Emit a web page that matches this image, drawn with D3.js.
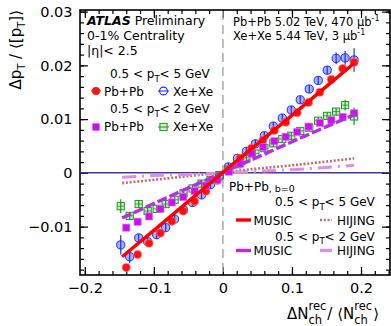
<!DOCTYPE html>
<html>
<head>
<meta charset="utf-8">
<script src="https://cdn.jsdelivr.net/npm/d3@7"></script>
<style>
  body { margin: 0; background: #fff; }
  svg text { font-family: "DejaVu Sans", sans-serif; fill: #000; }
</style>
</head>
<body>
<div class="chart"></div>
<script>
// Xe+Xe bins
const xeX = [-0.148, -0.135, -0.122, -0.109, -0.096, -0.083, -0.070, -0.057, -0.044, -0.031, -0.018, -0.005, 0.008,
  0.021, 0.034, 0.047, 0.060, 0.073, 0.086, 0.099, 0.112, 0.125, 0.138, 0.151, 0.164, 0.177, 0.190];
const xe5 = [-0.0134, -0.0156, -0.0121, -0.0128, -0.0115, -0.0102, -0.0086, -0.0069, -0.0055, -0.0041, -0.0022, -0.0007, 0.0011,
  0.0027, 0.0040, 0.0054, 0.0069, 0.0087, 0.0102, 0.0117, 0.0136, 0.0156, 0.0172, 0.0191, 0.0213, 0.0214, 0.0210];
const xe5Err = [0.0018, 0.0012, 0.0006, 0.0005, 0.0004, 0.0003, 0.0003, 0.0003, 0.0003, 0.0002, 0.0002, 0.0002, 0.0002,
  0.0002, 0.0002, 0.0002, 0.0003, 0.0003, 0.0003, 0.0003, 0.0004, 0.0004, 0.0005, 0.0006, 0.0011, 0.0013, 0.0022];
const xe2 = [-0.0062, -0.0080, -0.0058, -0.0071, -0.0067, -0.0058, -0.0050, -0.0038, -0.0029, -0.0020, -0.0013, -0.0004, 0.0006,
  0.0016, 0.0028, 0.0036, 0.0046, 0.0055, 0.0063, 0.0069, 0.0078, 0.0084, 0.0097, 0.0106, 0.0114, 0.0126, 0.0105];
const xe2Err = [0.0013, 0.0005, 0.0007, 0.0004, 0.0003, 0.0003, 0.0002, 0.0002, 0.0002, 0.0002, 0.0002, 0.0002, 0.0002,
  0.0002, 0.0002, 0.0002, 0.0002, 0.0002, 0.0003, 0.0003, 0.0003, 0.0004, 0.0004, 0.0005, 0.0006, 0.0010, 0.0016];

// Pb+Pb bins
const pbX = [-0.140, -0.1235, -0.107, -0.0905, -0.074, -0.0575, -0.041, -0.0245, -0.008, 0.0085,
  0.025, 0.0415, 0.058, 0.0745, 0.091, 0.1075, 0.124, 0.1405, 0.157, 0.1735, 0.190];
const pb5 = [-0.0176, -0.0152, -0.0131, -0.0112, -0.0090, -0.0071, -0.0053, -0.0034, -0.0014, 0.0006,
  0.0027, 0.0046, 0.0061, 0.0079, 0.0094, 0.0112, 0.0131, 0.0150, 0.0174, 0.0194, 0.0206];
const pb2 = [-0.0102, -0.0091, -0.0081, -0.0067, -0.0055, -0.0045, -0.0034, -0.0024, -0.0013, 0.0002,
  0.0017, 0.0036, 0.0048, 0.0059, 0.0067, 0.0076, 0.0086, 0.0093, 0.0098, 0.0104, 0.0111];

// model curves
const modelX = [-0.146, -0.1, -0.05, 0, 0.05, 0.1, 0.15, 0.19];
const music5 = [-0.0156, -0.0107, -0.0053, 0.0001, 0.0054, 0.0107, 0.0161, 0.0204];
const music2 = [-0.0084, -0.0057, -0.0028, 0.0001, 0.0029, 0.0058, 0.0086, 0.0108];
const hijing5 = [-0.0019, -0.0013, -0.0006, 0.0001, 0.0008, 0.0014, 0.0021, 0.0027];
const hijing2 = [-0.0008, -0.0005, -0.0003, 0.0000, 0.0003, 0.0006, 0.0010, 0.0014];

const xTicks = [-0.2, -0.1, 0, 0.1, 0.2];
const yTicks = [-0.01, 0, 0.01, 0.02, 0.03];

const width = 391, height = 326;
const frame = { left: 80, top: 10, right: 390, bottom: 275 };

const svg = d3.select('.chart').append('svg')
  .attr('width', width).attr('height', height);

const x = d3.scaleLinear([-0.207, 0.242], [frame.left, frame.right]);
const y = d3.scaleLinear([-0.019, 0.0303], [frame.bottom, frame.top]);

const xMinor = d3.range(-10, 13).map(i => +(i * 0.02).toFixed(3));
const yMinor = d3.range(-9, 16).map(i => +(i * 0.002).toFixed(4));

const fmtX = d => d === 0 ? '0' : d3.format('.1f')(d);
const fmtY = d => d === 0 ? '0' : d3.format('.2f')(d);

// axes (ticks inward on all four sides)
function drawAxis(axisFn, scale, tr, major, minor, fmt, showLabels) {
  const gMin = svg.append('g').attr('transform', tr)
    .call(axisFn(scale).tickValues(minor).tickSize(-4).tickFormat(''));
  const gMaj = svg.append('g').attr('transform', tr)
    .call(axisFn(scale).tickValues(major).tickSize(-8).tickPadding(showLabels ? 8 : 0)
      .tickFormat(showLabels ? fmt : ''));
  [gMin, gMaj].forEach(g => {
    g.select('.domain').remove();
    g.selectAll('line').attr('stroke', '#000').attr('stroke-width', 1.2);
  });
  gMaj.selectAll('text').style('font-size', '14.5px').attr('fill', '#000');
  return gMaj;
}
drawAxis(d3.axisBottom, x, `translate(0,${frame.bottom})`, xTicks, xMinor, fmtX, true);
drawAxis(d3.axisTop, x, `translate(0,${frame.top})`, xTicks, xMinor, fmtX, false);
drawAxis(d3.axisLeft, y, `translate(${frame.left},0)`, yTicks, yMinor, fmtY, true)
  .selectAll('text').attr('dx', '0.5');
drawAxis(d3.axisRight, y, `translate(${frame.right},0)`, yTicks, yMinor, fmtY, false);

svg.append('rect')
  .attr('x', frame.left).attr('y', frame.top)
  .attr('width', frame.right - frame.left).attr('height', frame.bottom - frame.top)
  .attr('fill', 'none').attr('stroke', '#000').attr('stroke-width', 1.6);

// reference lines
svg.append('line')
  .attr('x1', x(0)).attr('x2', x(0)).attr('y1', frame.top + 1).attr('y2', frame.bottom - 1)
  .attr('stroke', '#aaa').attr('stroke-width', 1.5).attr('stroke-dasharray', '9,5');
svg.append('line')
  .attr('x1', frame.left).attr('x2', frame.right).attr('y1', y(0)).attr('y2', y(0))
  .attr('stroke', '#3b3b9c').attr('stroke-width', 1.5);

const line = d3.line().x(d => x(d[0])).y(d => y(d[1]));
const pts = vals => modelX.map((v, i) => [v, vals[i]]);

// HIJING
svg.append('path').datum(pts(hijing5)).attr('d', line)
  .attr('fill', 'none').attr('stroke', '#c06a6a').attr('stroke-width', 2.6).attr('stroke-dasharray', '2,1.8');
svg.append('path').datum(pts(hijing2)).attr('d', line)
  .attr('fill', 'none').attr('stroke', '#e48ae8').attr('stroke-width', 3).attr('stroke-dasharray', '14,6,2,6');

// Xe+Xe 0.5-5: open blue circles
const gXe5 = svg.append('g');
xeX.forEach((v, i) => {
  gXe5.append('circle').attr('cx', x(v)).attr('cy', y(xe5[i])).attr('r', 4.1)
    .attr('fill', 'rgba(105,125,240,0.6)').attr('stroke', '#1e2cff').attr('stroke-width', 1);
  gXe5.append('line').attr('x1', x(v)).attr('x2', x(v))
    .attr('y1', Math.min(y(xe5[i] + xe5Err[i]), y(xe5[i]) - 4.1))
    .attr('y2', Math.max(y(xe5[i] - xe5Err[i]), y(xe5[i]) + 4.1))
    .attr('stroke', '#1e2cff').attr('stroke-width', 1.2);
});

// Xe+Xe 0.5-2: open green squares
const gXe2 = svg.append('g');
xeX.forEach((v, i) => {
  const cx = x(v), cy = y(xe2[i]);
  gXe2.append('rect').attr('x', cx - 3.6).attr('y', cy - 3.6).attr('width', 7.2).attr('height', 7.2)
    .attr('fill', 'rgba(80,190,80,0.25)').attr('stroke', '#199a19').attr('stroke-width', 1);
  gXe2.append('line').attr('x1', cx).attr('x2', cx)
    .attr('y1', Math.min(y(xe2[i] + xe2Err[i]), cy - 3.6))
    .attr('y2', Math.max(y(xe2[i] - xe2Err[i]), cy + 3.6))
    .attr('stroke', '#199a19').attr('stroke-width', 1.2);
  gXe2.append('line').attr('x1', cx - 3.6).attr('x2', cx + 3.6).attr('y1', cy).attr('y2', cy)
    .attr('stroke', '#199a19').attr('stroke-width', 0.8);
});

// Pb+Pb 0.5-5: red filled circles
svg.append('g').selectAll('circle').data(pbX).join('circle')
  .attr('cx', d => x(d)).attr('cy', (d, i) => y(pb5[i])).attr('r', 4)
  .attr('fill', '#ff1010').attr('stroke', 'rgba(255,120,120,0.6)').attr('stroke-width', 1.2);

// Pb+Pb 0.5-2: magenta filled squares
svg.append('g').selectAll('rect').data(pbX).join('rect')
  .attr('x', d => x(d) - 3.6).attr('y', (d, i) => y(pb2[i]) - 3.6)
  .attr('width', 7.2).attr('height', 7.2)
  .attr('fill', '#cc10ee').attr('stroke', 'rgba(220,120,240,0.6)').attr('stroke-width', 1);

// MUSIC
svg.append('path').datum(pts(music2)).attr('d', line)
  .attr('fill', 'none').attr('stroke', '#b52ee6').attr('stroke-width', 3.4).attr('stroke-dasharray', '10,3');
svg.append('path').datum(pts(music5)).attr('d', line)
  .attr('fill', 'none').attr('stroke', '#ff0000').attr('stroke-width', 3.4);

// text helpers
function txt(xp, yp, size) {
  return svg.append('text').attr('x', xp).attr('y', yp).style('font-size', size + 'px');
}
function ptRange(xp, yp, hi) {
  const t = txt(xp, yp, 12);
  t.append('tspan').text('0.5 < p');
  t.append('tspan').text('T').attr('dy', 3.5).style('font-size', '8.5px');
  t.append('tspan').text('< ' + hi + ' GeV').attr('dy', -3.5);
}

// top-left labels
const atl = txt(87, 25, 12.5);
atl.append('tspan').text('ATLAS').style('font-weight', 'bold').style('font-style', 'italic');
atl.append('tspan').text(' Preliminary');
txt(87, 40, 12.5).text('0-1% Centrality');
txt(87, 55, 12.5).text('|η|< 2.5');

ptRange(110, 78, 5);
svg.append('circle').attr('cx', 96).attr('cy', 91).attr('r', 4).attr('fill', '#ff1010');
svg.append('line').attr('x1', 91).attr('x2', 101).attr('y1', 91).attr('y2', 91).attr('stroke', '#ff1010');
txt(104, 95.5, 12).text('Pb+Pb');
svg.append('line').attr('x1', 158).attr('x2', 169).attr('y1', 91).attr('y2', 91).attr('stroke', '#1e2cff');
svg.append('circle').attr('cx', 163.5).attr('cy', 91).attr('r', 3.9)
  .attr('fill', 'none').attr('stroke', '#1e2cff').attr('stroke-width', 1.1);
txt(173, 95.5, 12).text('Xe+Xe');

ptRange(110, 113, 2);
svg.append('rect').attr('x', 92.4).attr('y', 123.4).attr('width', 7.2).attr('height', 7.2).attr('fill', '#cc10ee');
txt(104, 131, 12).text('Pb+Pb');
svg.append('rect').attr('x', 159.9).attr('y', 123.4).attr('width', 7.2).attr('height', 7.2)
  .attr('fill', 'rgba(80,190,80,0.25)').attr('stroke', '#199a19');
svg.append('line').attr('x1', 158).attr('x2', 169).attr('y1', 127).attr('y2', 127).attr('stroke', '#199a19');
txt(173, 131, 12).text('Xe+Xe');

// top-right labels
function lumi(yp, head, val) {
  const t = txt(233, yp, 11.5);
  t.append('tspan').text(head + ' ' + val + ' μb');
  t.append('tspan').text('-1').attr('dy', -5).style('font-size', '8px');
}
lumi(26, 'Pb+Pb 5.02 TeV,', '470');
lumi(40, 'Xe+Xe 5.44 TeV,', '3');

// bottom-right model legend
const mh = txt(229, 190.5, 12);
mh.append('tspan').text('Pb+Pb');
mh.append('tspan').text(', b=0').attr('dy', 1.5).style('font-size', '9.5px');
ptRange(275, 206, 5);
svg.append('line').attr('x1', 236).attr('x2', 251).attr('y1', 220).attr('y2', 220)
  .attr('stroke', '#ff0000').attr('stroke-width', 3.4);
txt(253.5, 224.5, 12).text('MUSIC');
svg.append('line').attr('x1', 320).attr('x2', 332).attr('y1', 220).attr('y2', 220)
  .attr('stroke', '#c06a6a').attr('stroke-width', 2.6).attr('stroke-dasharray', '2,1.8');
txt(337, 224.5, 12).text('HIJING');
ptRange(275, 240.5, 2);
svg.append('line').attr('x1', 236).attr('x2', 251).attr('y1', 250.5).attr('y2', 250.5)
  .attr('stroke', '#b52ee6').attr('stroke-width', 3.4);
txt(253.5, 255, 12).text('MUSIC');
svg.append('line').attr('x1', 320).attr('x2', 332).attr('y1', 250.5).attr('y2', 250.5)
  .attr('stroke', '#e48ae8').attr('stroke-width', 3.4);
txt(337, 255, 12).text('HIJING');

// axis titles
const yt = svg.append('text').attr('transform', `translate(21,${frame.top}) rotate(-90)`)
  .attr('text-anchor', 'end').style('font-size', '15px');
yt.append('tspan').text('Δp');
yt.append('tspan').text('T').attr('dy', 4).style('font-size', '10px');
yt.append('tspan').text(' / ⟨[p').attr('dy', -4);
yt.append('tspan').text('T').attr('dy', 4).style('font-size', '10px');
yt.append('tspan').text(']⟩').attr('dy', -4);

// x title: ΔN_ch^rec / ⟨N_ch^rec⟩ (pieces placed one after another, kept inside the page)
let cur = 287;
function piece(s, size, yp) {
  const t = txt(cur, yp, size).text(s);
  return t.node().getComputedTextLength();
}
cur += piece('ΔN', 15, 319);
const w1 = Math.max(piece('rec', 11.5, 310), piece('ch', 11.5, 324));
cur += w1 + 1;
cur += piece(' / ⟨N', 15, 319);
const w2 = Math.max(piece('rec', 11.5, 310), piece('ch', 11.5, 324));
cur += w2 + 1;
piece('⟩', 15, 319);
</script>
</body>
</html>
